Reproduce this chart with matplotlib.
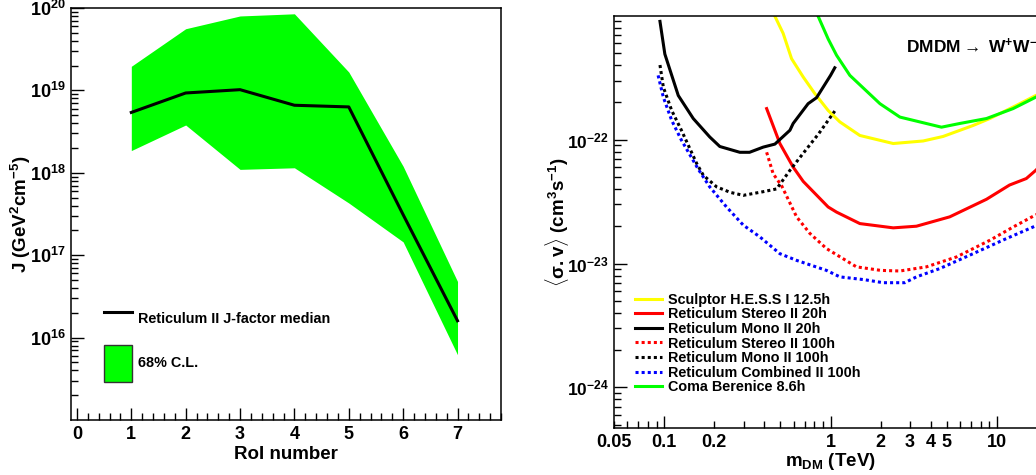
import numpy as np
import matplotlib
matplotlib.use("Agg")
import matplotlib.pyplot as plt
from matplotlib.lines import Line2D
from matplotlib.patches import Patch
from matplotlib.ticker import FixedLocator, FixedFormatter

plt.rcParams['font.family'] = ['Liberation Sans', 'DejaVu Sans']
plt.rcParams['font.weight'] = 'bold'
plt.rcParams['mathtext.fontset'] = 'custom'
plt.rcParams['mathtext.rm'] = 'Liberation Sans:bold'
plt.rcParams['mathtext.it'] = 'Liberation Sans:bold'
plt.rcParams['mathtext.bf'] = 'Liberation Sans:bold'

# ---- left panel: J-factor per RoI
roi = np.array([1, 2, 3, 4, 5, 6, 7])
j_median = np.array([5.4e18, 9.3e18, 1.02e19, 6.6e18, 6.3e18, 3.1e17, 1.6e16])
j_upper = np.array([1.96e19, 5.6e19, 8.0e19, 8.5e19, 1.67e19, 1.2e18, 4.8e16])
j_lower = np.array([1.86e18, 3.8e18, 1.1e18, 1.15e18, 4.3e17, 1.45e17, 6.2e15])

# ---- right panel: <sigma v> limits vs m_DM (TeV)
m_mono20 = [0.0944, 0.101, 0.1216, 0.1496, 0.188, 0.216, 0.285, 0.326, 0.394,
            0.463, 0.57, 0.596, 0.733, 0.824, 1.0, 1.06]
sv_mono20 = [9.0e-22, 4.9e-22, 2.27e-22, 1.48e-22, 1.05e-22, 8.8e-23, 7.9e-23,
             7.9e-23, 8.7e-23, 9.2e-23, 1.19e-22, 1.35e-22, 1.95e-22, 2.18e-22,
             3.3e-22, 3.8e-22]

m_mono100 = [0.0944, 0.0989, 0.111, 0.127, 0.157, 0.172, 0.207, 0.25, 0.299,
             0.394, 0.474, 0.57, 0.7, 0.85, 1.06]
sv_mono100 = [4.0e-22, 2.65e-22, 1.72e-22, 1.19e-22, 6.4e-23, 5.15e-23, 4.15e-23,
              3.75e-23, 3.55e-23, 3.8e-23, 4.0e-23, 5.65e-23, 8.05e-23, 1.12e-22,
              1.7e-22]

m_comb100 = [0.092, 0.0989, 0.111, 0.127, 0.16, 0.188, 0.237, 0.299, 0.376, 0.496,
             0.625, 0.945, 1.137, 1.6, 2.07, 2.79, 3.28, 4.53, 7.18, 11.4, 16.9, 20]
sv_comb100 = [3.3e-22, 2.2e-22, 1.43e-22, 9.9e-23, 5.8e-23, 4.15e-23, 2.86e-23,
              2.04e-23, 1.64e-23, 1.2e-23, 1.06e-23, 8.8e-24, 7.8e-24, 7.4e-24,
              7.0e-24, 7.0e-24, 7.8e-24, 9.1e-24, 1.2e-23, 1.59e-23, 2.0e-23, 2.2e-23]

m_stereo100 = [0.413, 0.452, 0.51, 0.625, 0.751, 0.945, 1.43, 2.0, 2.61, 3.77,
               5.71, 9.06, 12.5, 16.9, 20]
sv_stereo100 = [7.9e-23, 5.3e-23, 4.2e-23, 2.38e-23, 1.75e-23, 1.32e-23, 9.4e-24,
                8.8e-24, 8.7e-24, 9.4e-24, 1.13e-23, 1.54e-23, 1.97e-23, 2.45e-23,
                2.7e-23]

m_stereo20 = [0.413, 0.496, 0.596, 0.685, 0.967, 1.086, 1.5, 2.38, 3.28, 5.2,
              8.65, 11.9, 15.0, 17.1, 20]
sv_stereo20 = [1.78e-22, 9.3e-23, 6.0e-23, 4.6e-23, 2.86e-23, 2.6e-23, 2.1e-23,
               1.94e-23, 2.0e-23, 2.38e-23, 3.3e-23, 4.3e-23, 4.85e-23, 5.65e-23,
               7.0e-23]

m_sculptor = [0.463, 0.519, 0.583, 0.685, 0.805, 0.967, 1.137, 1.5, 2.38, 3.6,
              4.74, 7.18, 9.06, 13.1, 17.1, 20]
sv_sculptor = [9.9e-22, 7.2e-22, 4.5e-22, 3.2e-22, 2.35e-22, 1.72e-22, 1.39e-22,
               1.08e-22, 9.3e-23, 9.75e-23, 1.06e-22, 1.3e-22, 1.48e-22, 1.89e-22,
               2.27e-22, 2.5e-22]

m_coma = [0.842, 0.967, 1.086, 1.306, 1.98, 2.61, 4.64, 5.98, 8.65, 12.5, 17.1, 20]
sv_coma = [9.9e-22, 6.5e-22, 4.8e-22, 3.3e-22, 1.95e-22, 1.52e-22, 1.26e-22,
           1.35e-22, 1.48e-22, 1.78e-22, 2.2e-22, 2.45e-22]

fig = plt.figure(figsize=(10.36, 4.75), dpi=100)

# ---------------- left
ax1 = fig.add_axes([0.0685, 0.1158, 0.4151, 0.8674])
ax1.fill_between(roi, j_lower, j_upper, color='#00ff00', lw=0)
ax1.plot(roi, j_median, color='black', lw=2.2)
ax1.set_yscale('log')
ax1.set_xlim(-0.11, 7.8)
ax1.set_ylim(1e15, 1e20)
ax1.set_xticks(np.arange(0, 8))
ax1.set_xticks(np.arange(0, 7.81, 0.2), minor=True)
ax1.set_yticks([1e16, 1e17, 1e18, 1e19, 1e20])
ax1.set_yticklabels(['$10^{16}$', '$10^{17}$', '$10^{18}$', '$10^{19}$', '$10^{20}$'])
ax1.set_xlabel('RoI number', fontsize=13.5, fontweight='bold')
ax1.set_ylabel('J (GeV$^{2}$cm$^{-5}$)', fontsize=13.5, fontweight='bold')
ax1.yaxis.set_label_coords(-0.088, 0.5)
ax1.xaxis.set_label_coords(0.5, -0.063)

h1 = [Line2D([], [], color='black', lw=2.2),
      Patch(facecolor='#00ff00', edgecolor='#333333', lw=1)]
ax1.legend(h1, ['Reticulum II J-factor median', '68% C.L.'], loc='upper left',
           bbox_to_anchor=(0.0767, 0.2903), frameon=False, borderpad=0,
           borderaxespad=0, fontsize=10.4, handlelength=1.95, handleheight=3.5,
           handletextpad=0.42, labelspacing=0.58)

# ---------------- right
ax2 = fig.add_axes([0.5927, 0.0989, 0.418, 0.868])
ax2.plot(m_sculptor, sv_sculptor, color='#ffff00', lw=2.2,
         label='Sculptor H.E.S.S I 12.5h')
ax2.plot(m_stereo20, sv_stereo20, color='#ff0000', lw=2.2,
         label='Reticulum Stereo II 20h')
ax2.plot(m_mono20, sv_mono20, color='black', lw=2.2,
         label='Reticulum Mono II 20h')
ax2.plot(m_stereo100, sv_stereo100, color='#ff0000', lw=2.2, ls=(0, (1, 1)),
         label='Reticulum Stereo II 100h')
ax2.plot(m_mono100, sv_mono100, color='black', lw=2.2, ls=(0, (1, 1)),
         label='Reticulum Mono II 100h')
ax2.plot(m_comb100, sv_comb100, color='#0000ff', lw=2.2, ls=(0, (1, 1)),
         label='Reticulum Combined II 100h')
ax2.plot(m_coma, sv_coma, color='#00ff00', lw=2.2,
         label='Coma Berenice 8.6h')
ax2.set_xscale('log')
ax2.set_yscale('log')
ax2.set_xlim(0.05, 20)
ax2.set_ylim(4.7e-25, 1e-21)

xmaj = [0.1, 1, 10]
xmin_ = [0.05, 0.06, 0.07, 0.08, 0.09, 0.2, 0.3, 0.4, 0.5, 0.6, 0.7, 0.8, 0.9,
         2, 3, 4, 5, 6, 7, 8, 9]
ax2.xaxis.set_major_locator(FixedLocator(xmaj))
ax2.xaxis.set_minor_locator(FixedLocator(xmin_))
ax2.xaxis.set_major_formatter(FixedFormatter(['0.1', '1', '10']))
ax2.xaxis.set_minor_formatter(FixedFormatter(['0.05', '', '', '', '', '0.2', '', '',
                                              '', '', '', '', '', '2', '3', '4',
                                              '5', '', '', '', '']))
ax2.set_yticks([1e-24, 1e-23, 1e-22])
ax2.set_yticklabels(['$10^{-24}$', '$10^{-23}$', '$10^{-22}$'])
ax2.set_xlabel('m$_{DM}$ (TeV)', fontsize=13.5, fontweight='bold')
ax2.set_ylabel(r'$\langle\sigma.v\rangle$ (cm$^{3}$s$^{-1}$)', fontsize=13.5,
               fontweight='bold')
ax2.yaxis.set_label_coords(-0.1, 0.5)
ax2.xaxis.set_label_coords(0.5, -0.056)
ax2.text(0.675, 0.925, r'DMDM$\rightarrow$ W$^{+}$W$^{-}$', transform=ax2.transAxes,
         fontsize=12.5, fontweight='bold', ha='left', va='center')

ax2.legend(loc='upper left', bbox_to_anchor=(0.0485, 0.328), frameon=False,
           borderpad=0, borderaxespad=0, fontsize=10.4, handlelength=1.9,
           handletextpad=0.4, labelspacing=0.04)

for ax in (ax1, ax2):
    for s in ax.spines.values():
        s.set_linewidth(1.1)
    ax.tick_params(which='both', direction='in', top=False, right=False,
                   labelsize=13, pad=4, width=1.0)
    ax.tick_params(which='major', length=9)
    ax.tick_params(which='minor', length=5)
    for lab in ax.get_xticklabels(which='both') + ax.get_yticklabels(which='both'):
        lab.set_fontweight('bold')
ax2.tick_params(axis='y', labelsize=12.5)

fig.savefig('out.png', dpi=100)
